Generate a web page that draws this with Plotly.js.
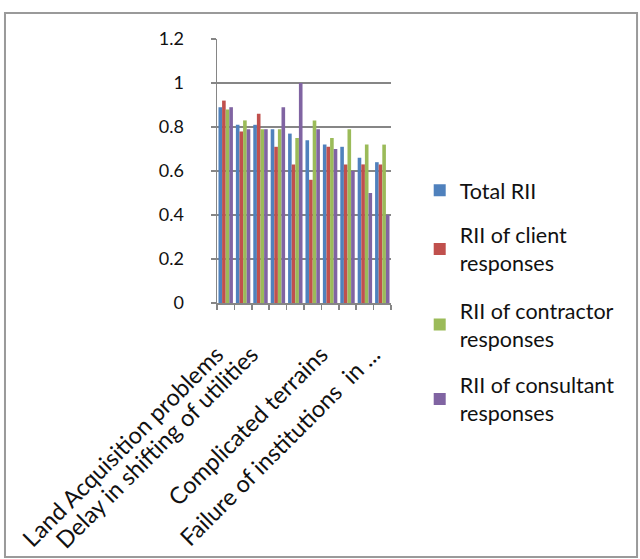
<!DOCTYPE html>
<html>
<head>
<meta charset="utf-8">
<script src="https://cdn.plot.ly/plotly-3.0.1.min.js"></script>
<style>
  html, body { margin: 0; padding: 0; background: #fff; }
  #chart { width: 640px; height: 559px; }
</style>
</head>
<body>
<div id="chart"></div>
<script>
// Delay factors, numbered in order along the category axis
const factorIndex = [1, 2, 3, 4, 5, 6, 7, 8, 9, 10];

// Only some factor names fit under the axis
const labelPositions = [1, 3, 7, 10];
const labelTexts = [
  'Land Acquisition problems',
  'Delay in shifting of utilities',
  'Complicated terrains',
  'Failure of institutions  in ...'
];

// Relative importance index per respondent group
const totalRII      = [0.89, 0.81, 0.81, 0.79, 0.77, 0.74, 0.72, 0.71, 0.66, 0.64];
const clientRII     = [0.92, 0.78, 0.86, 0.71, 0.63, 0.56, 0.71, 0.63, 0.63, 0.63];
const contractorRII = [0.88, 0.83, 0.79, 0.79, 0.75, 0.83, 0.75, 0.79, 0.72, 0.72];
const consultantRII = [0.89, 0.79, 0.79, 0.89, 1.00, 0.79, 0.70, 0.60, 0.50, 0.40];

const seriesNames = [
  'Total RII',
  'RII of client<br>responses',
  'RII of contractor<br>responses',
  'RII of consultant<br>responses'
];
const seriesColors = ['#4F81BD', '#C0504D', '#9BBB59', '#8064A2'];
const seriesValues = [totalRII, clientRII, contractorRII, consultantRII];
const legendIds = ['legend', 'legend2', 'legend3', 'legend4'];

const FONT = 'Lato, "Open Sans", sans-serif';
const GRID = '#868686';

const traces = seriesValues.map((vals, i) => ({
  type: 'bar',
  x: factorIndex,
  y: vals,
  name: seriesNames[i],
  marker: { color: seriesColors[i] },
  legend: legendIds[i],
  hoverinfo: 'x+y+name'
}));

// Each legend entry sits on its own row at the right of the plot
const legendRowTops = [0.505, 0.335, 0.049, -0.233];
const legendBase = {
  x: 1.165,
  xanchor: 'left',
  yanchor: 'top',
  bgcolor: 'rgba(0,0,0,0)',
  font: { family: FONT, size: 21.5, color: '#111' },
  itemwidth: 30
};

const layout = {
  width: 640,
  height: 559,
  margin: { l: 217, r: 249, t: 39, b: 256 },
  paper_bgcolor: '#fff',
  plot_bgcolor: '#fff',
  font: { family: FONT, color: '#111' },
  barmode: 'group',
  bargap: 0.17,
  bargroupgap: 0,
  showlegend: true,
  legend:  Object.assign({}, legendBase, { y: legendRowTops[0] }),
  legend2: Object.assign({}, legendBase, { y: legendRowTops[1] }),
  legend3: Object.assign({}, legendBase, { y: legendRowTops[2] }),
  legend4: Object.assign({}, legendBase, { y: legendRowTops[3] }),
  xaxis: {
    range: [0.5, 10.5],
    tickmode: 'array',
    tickvals: labelPositions,
    ticktext: labelTexts,
    tickangle: -45,
    ticks: '',
    ticklabelstandoff: 27,
    ticklabelshift: -9,
    tickfont: { family: FONT, size: 23.5, color: '#111' },
    showline: true,
    linecolor: GRID,
    linewidth: 1.5,
    showgrid: false,
    zeroline: false,
    fixedrange: true,
    minor: {
      tickmode: 'array',
      tickvals: [0.5, 1.5, 2.5, 3.5, 4.5, 5.5, 6.5, 7.5, 8.5, 9.5, 10.5],
      ticks: 'outside',
      ticklen: 5,
      tickcolor: GRID,
      tickwidth: 1.5,
      showgrid: false
    }
  },
  yaxis: {
    range: [0, 1.2],
    dtick: 0.2,
    tick0: 0,
    ticks: 'outside',
    ticklen: 5,
    tickcolor: GRID,
    tickwidth: 1.5,
    ticklabelstandoff: 23,
    tickfont: { family: FONT, size: 18, color: '#111' },
    showline: true,
    linecolor: GRID,
    linewidth: 1.5,
    showgrid: true,
    gridcolor: GRID,
    gridwidth: 1.5,
    zeroline: false,
    fixedrange: true
  },
  shapes: [{
    type: 'rect',
    xref: 'paper', yref: 'paper',
    x0: -1.2185, x1: 2.414,
    y0: -0.962, y1: 1.0985,
    line: { color: '#9a9a9a', width: 2 },
    fillcolor: 'rgba(0,0,0,0)',
    layer: 'below'
  }]
};

Plotly.newPlot('chart', traces, layout, { displayModeBar: false, staticPlot: true });
</script>
</body>
</html>
